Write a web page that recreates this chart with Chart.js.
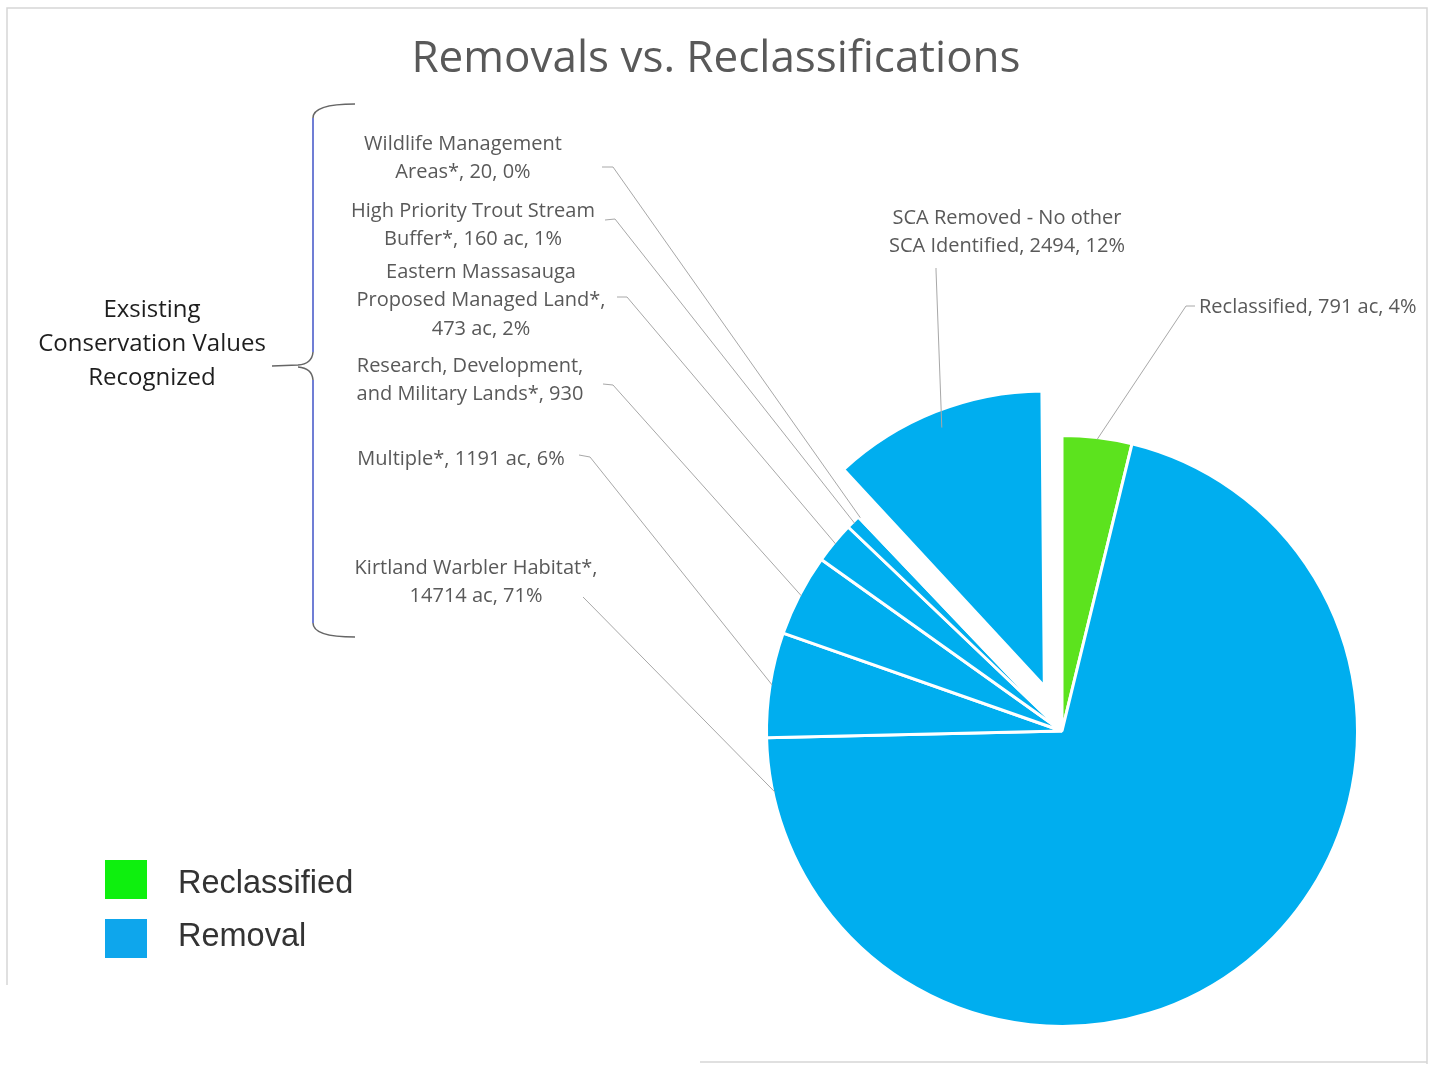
<!DOCTYPE html>
<html>
<head>
<meta charset="utf-8">
<script src="https://cdn.jsdelivr.net/npm/chart.js@4.4.1/dist/chart.umd.min.js"></script>
<style>
  html, body { margin: 0; padding: 0; background: #fff; }
  #wrap { width: 1434px; height: 1066px; position: relative; }
</style>
</head>
<body>
<div id="wrap"><canvas id="pieChart"></canvas></div>
<script>
// slices, clockwise from 12 o'clock
const categories = ['Reclassified', 'Kirtland Warbler Habitat*', 'Multiple*',
  'Research, Development, and Military Lands*', 'Eastern Massasauga Proposed Managed Land*',
  'High Priority Trout Stream Buffer*', 'Wildlife Management Areas*', 'SCA Removed - No other SCA Identified'];
const acres = [791, 14714, 1191, 930, 473, 160, 20, 2494];
const sliceGroup = ['Reclassified', 'Removal', 'Removal', 'Removal', 'Removal', 'Removal', 'Removal', 'Removal'];
const explode = [0, 0, 0, 0, 0, 0, 0, 48];   // px the slice is pulled out

// data label text as printed on the chart
const labelLines = [
  ['Reclassified, 791 ac, 4%'],
  ['Kirtland Warbler Habitat*,', '14714 ac, 71%'],
  ['Multiple*, 1191 ac, 6%'],
  ['Research, Development,', 'and Military Lands*, 930'],
  ['Eastern Massasauga', 'Proposed Managed Land*,', '473 ac, 2%'],
  ['High Priority Trout Stream', 'Buffer*, 160 ac, 1%'],
  ['Wildlife Management', 'Areas*, 20, 0%'],
  ['SCA Removed - No other', 'SCA Identified, 2494, 12%']
];
const legendItems = ['Reclassified', 'Removal'];
const bracketText = ['Exsisting', 'Conservation Values', 'Recognized'];
const chartTitle = 'Removals vs. Reclassifications';

const groupColor = { Reclassified: '#5ce31e', Removal: '#00aeef' };
const legendColor = { Reclassified: '#0ef00e', Removal: '#0ea6ec' };

// where each data label sits and where its leader line starts
const labelLayout = [
  { x: 1199, y: 307, align: 'left', lead: [[1195, 306], [1186, 306]], at: 0.5 },
  { x: 476, y: 568, align: 'center', lead: [[583, 597], [585, 599]], at: 0.958 },
  { x: 461, y: 459, align: 'center', lead: [[579, 455], [590, 457]], at: 0.5 },
  { x: 470, y: 366, align: 'center', lead: [[603, 384], [613, 385]], at: 0.5 },
  { x: 481, y: 272, align: 'center', lead: [[617, 297], [627, 297]], at: 0.5 },
  { x: 473, y: 211, align: 'center', lead: [[605, 220], [615, 219]], at: 0.5 },
  { x: 463, y: 144, align: 'center', lead: [[602, 167], [613, 167]], at: 0.5 },
  { x: 1007, y: 218, align: 'center', lead: [[936, 268], [936, 270]], at: 0.5 }
];

const labelFont = '20px "Open Sans"';

const pieDecor = {
  id: 'pieDecor',
  afterDatasetUpdate(chart) {
    // chart.js grows an offset slice a little; keep it at the common radius
    chart.getDatasetMeta(0).data.forEach((arc, i) => {
      if (explode[i]) arc.outerRadius -= explode[i] * (1 - Math.sin(Math.min(Math.PI, arc.circumference)));
    });
  },
  beforeDraw(chart) {
    const ctx = chart.ctx;
    ctx.save();
    ctx.fillStyle = '#fff';
    ctx.fillRect(0, 0, chart.width, chart.height);
    // frame
    ctx.strokeStyle = '#d6d6d6';
    ctx.lineWidth = 1.5;
    ctx.beginPath();
    ctx.moveTo(7, 985); ctx.lineTo(7, 8); ctx.lineTo(1427, 8); ctx.lineTo(1427, 1064);
    ctx.moveTo(700, 1062); ctx.lineTo(1427, 1062);
    ctx.stroke();
    // title
    ctx.fillStyle = '#595959';
    ctx.font = '44px "Open Sans"';
    ctx.textAlign = 'center';
    ctx.textBaseline = 'middle';
    ctx.fillText(chartTitle, 716, 59);
    ctx.restore();
  },
  afterDatasetsDraw(chart) {
    const ctx = chart.ctx;
    const arcs = chart.getDatasetMeta(0).data;
    ctx.save();
    // leader lines
    ctx.strokeStyle = '#a8a8a8';
    ctx.lineWidth = 1;
    arcs.forEach((arc, i) => {
      const L = labelLayout[i];
      const mid = (arc.startAngle + arc.endAngle) / 2;
      const a = arc.startAngle + (arc.endAngle - arc.startAngle) * L.at;
      const shift = explode[i];
      const ex = arc.x + Math.cos(mid) * shift + Math.cos(a) * (arc.outerRadius - 2);
      const ey = arc.y + Math.sin(mid) * shift + Math.sin(a) * (arc.outerRadius - 2);
      ctx.beginPath();
      ctx.moveTo(L.lead[0][0], L.lead[0][1]);
      ctx.lineTo(L.lead[1][0], L.lead[1][1]);
      ctx.lineTo(ex, ey);
      ctx.stroke();
    });
    // data labels
    ctx.fillStyle = '#595959';
    ctx.font = labelFont;
    ctx.textBaseline = 'middle';
    labelLines.forEach((lines, i) => {
      const L = labelLayout[i];
      ctx.textAlign = L.align;
      lines.forEach((t, k) => ctx.fillText(t, L.x, L.y + k * 28.5));
    });

    // curly bracket
    ctx.lineWidth = 1.5;
    ctx.strokeStyle = '#666';
    ctx.beginPath();
    ctx.moveTo(355, 104); ctx.quadraticCurveTo(313, 104, 313, 118);
    ctx.moveTo(313, 623); ctx.quadraticCurveTo(313, 637, 355, 637);
    ctx.moveTo(272, 366); ctx.lineTo(298, 365); ctx.quadraticCurveTo(312, 364, 313, 352);
    ctx.moveTo(298, 367); ctx.quadraticCurveTo(312, 368, 313, 380);
    ctx.stroke();
    ctx.strokeStyle = '#4254c8';
    ctx.beginPath();
    ctx.moveTo(313, 118); ctx.lineTo(313, 352);
    ctx.moveTo(313, 380); ctx.lineTo(313, 623);
    ctx.stroke();

    ctx.fillStyle = '#1e1e1e';
    ctx.font = '24px "Open Sans"';
    ctx.textAlign = 'center';
    bracketText.forEach((t, k) => ctx.fillText(t, 152, 310 + k * 34));

    // legend
    ctx.font = '32.5px "Liberation Sans"';
    ctx.textAlign = 'left';
    legendItems.forEach((name, k) => {
      const y = 860 + k * 59;
      ctx.fillStyle = legendColor[name];
      ctx.fillRect(105, y, 42, 39);
      ctx.fillStyle = '#333';
      ctx.fillText(name, 178, 884 + k * 53);
    });
    ctx.restore();
  }
};

const ctx = document.getElementById('pieChart').getContext('2d');
const pieChart = new Chart(ctx, {
  type: 'pie',
  data: {
    labels: categories,
    datasets: [{
      data: acres,
      backgroundColor: sliceGroup.map(g => groupColor[g]),
      borderColor: '#ffffff',
      borderWidth: 3,
      offset: explode.map(v => v * 4)
    }]
  },
  options: {
    responsive: true,
    maintainAspectRatio: false,
    animation: false,
    radius: 295.5,
    layout: { padding: { left: 702, right: 12, top: 401, bottom: 5 } },
    plugins: {
      legend: { display: false },
      tooltip: { enabled: false },
      title: { display: false }
    }
  },
  plugins: [pieDecor]
});
</script>
</body>
</html>
